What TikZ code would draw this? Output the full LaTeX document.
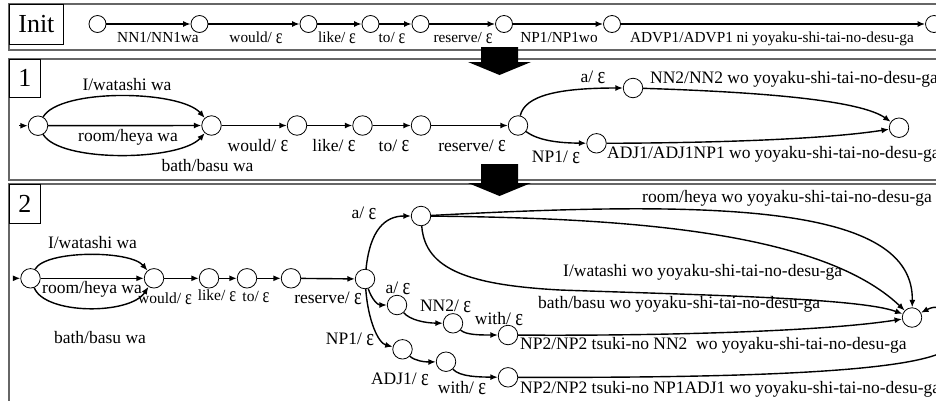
\documentclass[tikz,border=0pt]{standalone}
\usepackage{fontspec}
\usepackage{graphicx}
\setmainfont{Liberation Serif}
\usetikzlibrary{arrows.meta}
\newcommand\lblfont{\fontsize{17.5}{20}\selectfont}
\newcommand\lblsfont{\fontsize{15.5}{18}\selectfont}
\newcommand\lblifont{\fontsize{15.3}{18}\selectfont}
\newcommand\tagfont{\fontsize{26}{30}\selectfont}
% tall epsilon used for the empty output symbol
\newcommand\eps{\raisebox{-0.8pt}{\scalebox{1.05}[1.35]{ε}}}
\tikzset{
  st/.style={circle, draw, line width=0.8pt, fill=white, minimum size=19.5pt, inner sep=0pt},
  sti/.style={st, minimum size=17pt},
  tr/.style={line width=1.4pt, -{Latex[length=7.5pt,width=6pt]}},
  lb/.style={inner sep=0pt, font=\lblfont, anchor=base},
  lbs/.style={lb, font=\lblsfont},
  lbw/.style={lb, anchor=base west},
  lbi/.style={inner sep=0pt, font=\lblifont, anchor=base},
  tagbox/.style={draw, line width=0.8pt, inner sep=0pt, font=\tagfont, anchor=north west},
  panel/.style={draw=black!60, line width=1.3pt},
  bigarrow/.style={fill=black}
}
\begin{document}
\begin{tikzpicture}[x=1pt,y=-1pt]
\useasboundingbox (0,0) rectangle (936,400);
\clip (0,0) rectangle (936,400);

% ---- panel frames ----
\draw[panel] (9,4) rectangle (960,50);
\draw[panel] (9,59) rectangle (960,180);
\draw[panel] (9,184) rectangle (960,420);

% ---- step tags ----
\node[tagbox, minimum width=54pt, minimum height=40pt] (tag0) at (9,4) {Init};
\node[tagbox, minimum width=31pt, minimum height=38pt] (tag1) at (9,59) {1};
\node[tagbox, minimum width=31pt, minimum height=39pt] (tag2) at (9,184) {2};

% ---- block arrows between the steps ----
\fill[bigarrow] (481,47) -- (518,47) -- (518,62) -- (531,62) -- (499.5,75) -- (468,62) -- (481,62) -- cycle;
\fill[bigarrow] (481,164) -- (518,164) -- (518,183) -- (531,183) -- (499.5,196) -- (468,183) -- (481,183) -- cycle;

% ================= Init =================
\node[sti] (c1) at (97.5,24) {};
\node[sti] (c2) at (199.5,24) {};
\node[sti] (c3) at (308.5,24) {};
\node[sti] (c4) at (370.5,24) {};
\node[sti] (c5) at (420.5,24) {};
\node[sti] (c6) at (504,24) {};
\node[sti] (c7) at (612,24) {};
\node[sti] (c8) at (934,24) {};
\draw[tr] (c1) -- (c2);
\draw[tr] (c2) -- (c3);
\draw[tr] (c3) -- (c4);
\draw[tr] (c4) -- (c5);
\draw[tr] (c5) -- (c6);
\draw[tr] (c6) -- (c7);
\draw[tr] (c7) -- (c8);
\node[lbi] (i1) at (158,42.5) {NN1/NN1wa};
\node[lbi] (i2) at (256,42.5) {would/ \eps};
\node[lbi] (i3) at (337,42.5) {like/ \eps};
\node[lbi] (i4) at (392,42.5) {to/ \eps};
\node[lbi] (i5) at (463,42.5) {reserve/ \eps};
\node[lbi] (i6) at (559,42.5) {NP1/NP1wo};
\node[lbi] (i7) at (772,42.5) {ADVP1/ADVP1 ni yoyaku-shi-tai-no-desu-ga};

% ================= Step 1 =================
\node[st] (p1a) at (38,125.7) {};
\node[st] (p1b) at (211.5,125.5) {};
\node[st] (p1c) at (297,125.5) {};
\node[st] (p1d) at (362.5,125.5) {};
\node[st] (p1e) at (421,125.5) {};
\node[st] (p1f) at (518,125.5) {};
\node[st] (p1g) at (596.5,143.3) {};
\node[st] (p1h) at (633,88) {};
\node[st] (p1i) at (899,127.7) {};
\coordinate (in1) at (19,125.7);
\draw[tr] (in1) -- (p1a);
\draw[tr] (p1a) .. controls (60,88) and (180,90) .. (p1b);
\draw[tr] (p1a) -- (p1b);
\draw[tr] (p1a) .. controls (60,163) and (180,161) .. (p1b);
\draw[tr] (p1b) -- (p1c);
\draw[tr] (p1c) -- (p1d);
\draw[tr] (p1d) -- (p1e);
\draw[tr] (p1e) -- (p1f);
\draw[tr] (p1f) .. controls (525,95) and (560,88) .. (p1h);
\draw[tr] (p1f) .. controls (540,142) and (565,143) .. (p1g);
\draw[tr] (p1h) .. controls (760,92) and (860,100) .. (p1i);
\draw[tr] (p1g) .. controls (700,143) and (820,140) .. (p1i);
\node[lb] (a1) at (127,90.5) {I/watashi wa};
\node[lb] (a2) at (128,141) {room/heya wa};
\node[lb] (a3) at (207.5,171) {bath/basu wa};
\node[lb] (a4) at (258,151) {would/ \eps};
\node[lb] (a5) at (334,151) {like/ \eps};
\node[lb] (a6) at (394,151) {to/ \eps};
\node[lb] (a7) at (472,151) {reserve/ \eps};
\node[lb] (a8) at (593,82.5) {a/ \eps};
\node[lb] (a9) at (556,162.5) {NP1/ \eps};
\node[lbw] (a10) at (650,83) {NN2/NN2 wo yoyaku-shi-tai-no-desu-ga};
\node[lbw] (a11) at (607,158) {ADJ1/ADJ1NP1 wo yoyaku-shi-tai-no-desu-ga};

% ================= Step 2 =================
\node[st] (qa) at (30.5,278.3) {};
\node[st] (qb) at (154,278.3) {};
\node[st] (qc) at (209,278.3) {};
\node[st] (qd) at (247,278.3) {};
\node[st] (qe) at (291,278.3) {};
\node[st] (qf) at (365,279) {};
\node[st] (qg) at (421,216) {};
\node[st] (qh) at (397,305) {};
\node[st] (qi) at (453,323.3) {};
\node[st] (qj) at (508,335) {};
\node[st] (qk) at (402.5,349.3) {};
\node[st] (ql) at (446,361.7) {};
\node[st] (qm) at (508,377.3) {};
\node[st] (qz) at (912,317.5) {};
\coordinate (in2) at (13,278.3);
\draw[tr] (in2) -- (qa);
\draw[tr] (qa) .. controls (45,250) and (130,250) .. (qb);
\draw[tr] (qa) -- (qb);
\draw[tr] (qa) .. controls (45,315) and (130,315) .. (qb);
\draw[tr] (qb) -- (qc);
\draw[tr] (qc) -- (qd);
\draw[tr] (qd) -- (qe);
\draw[tr] (qe) -- (qf);
\draw[tr] (qf) .. controls (370,230) and (385,216) .. (qg);
\draw[tr] (qf) .. controls (372,300) and (378,305) .. (qh);
\draw[tr] (qh) .. controls (410,320) and (425,323) .. (qi);
\draw[tr] (qi) .. controls (466,335) and (480,335) .. (qj);
\draw[tr] (qf) .. controls (368,320) and (378,343) .. (qk);
\draw[tr] (qk) .. controls (415,361) and (425,362) .. (ql);
\draw[tr] (ql) .. controls (460,377) and (480,377) .. (qm);
\draw[tr] (qg) .. controls (720,200) and (914,205) .. (qz);
\draw[tr] (qg) .. controls (620,218) and (820,230) .. (qz);
\coordinate (bend1) at (560,290);
\draw[tr] (qg) .. controls (425,270) and (470,285) .. (bend1) .. controls (700,295) and (860,298) .. (qz);
\draw[tr] (qj) .. controls (650,336) and (820,332) .. (qz);
\coordinate (bend2) at (952,345);
\draw[tr] (qm) .. controls (750,378) and (935,372) .. (bend2) .. controls (962,322) and (945,300) .. (qz);
\node[lb] (b1) at (92.5,248) {I/watashi wa};
\node[lb] (b2) at (92,293.5) {room/heya wa};
\node[lb] (b3) at (100,343) {bath/basu wa};
\node[lbs] (b4) at (165,303.5) {would/ \eps};
\node[lbs] (b5) at (217,300.5) {like/ \eps};
\node[lbs] (b6) at (256,301.5) {to/ \eps};
\node[lb] (b7) at (328,303.5) {reserve/ \eps};
\node[lb] (b8) at (364,218.5) {a/ \eps};
\node[lb] (b9) at (398,293.5) {a/ \eps};
\node[lb] (b10) at (445.5,311.5) {NN2/ \eps};
\node[lb] (b11) at (499,324.5) {with/ \eps};
\node[lb] (b12) at (350,344.5) {NP1/ \eps};
\node[lb] (b13) at (400,384.5) {ADJ1/ \eps};
\node[lb] (b14) at (462,393.5) {with/ \eps};
\node[lbw] (b15) at (642,202.5) {room/heya wo yoyaku-shi-tai-no-desu-ga};
\node[lbw] (b16) at (563,276.5) {I/watashi wo yoyaku-shi-tai-no-desu-ga};
\node[lbw] (b17) at (538,308) {bath/basu wo yoyaku-shi-tai-no-desu-ga};
\node[lbw] (b18) at (520,349.5) {NP2/NP2 tsuki-no NN2\ \ wo yoyaku-shi-tai-no-desu-ga};
\node[lbw] (b19) at (520,393.5) {NP2/NP2 tsuki-no NP1ADJ1 wo yoyaku-shi-tai-no-desu-ga};
\end{tikzpicture}
\end{document}
